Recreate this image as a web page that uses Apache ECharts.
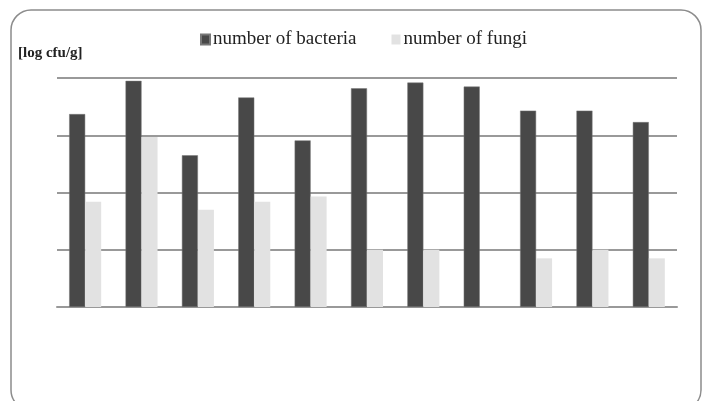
<!DOCTYPE html>
<html>
<head>
<meta charset="utf-8">
<script src="https://cdn.jsdelivr.net/npm/echarts@6/dist/echarts.min.js"></script>
<style>
  html, body { margin: 0; padding: 0; background: #fff; }
  #main { width: 703px; height: 401px; }
</style>
</head>
<body>
<div id="main"></div>
<script>
// samples (no labels shown in the original)
var categories = ['1', '2', '3', '4', '5', '6', '7', '8', '9', '10', '11'];
var bacteria = [3.37, 3.95, 2.65, 3.66, 2.91, 3.82, 3.92, 3.85, 3.43, 3.43, 3.23];
var fungi = [1.84, 2.97, 1.70, 1.84, 1.93, 1.0, 1.0, 0, 0.85, 1.0, 0.85];
var yTicks = [0, 1, 2, 3, 4];

var chart = echarts.init(document.getElementById('main'));

var option = {
    animation: false,
    backgroundColor: '#fff',
    graphic: [{
        type: 'rect',
        shape: { x: 11, y: 10, width: 690, height: 400, r: 20 },
        style: { fill: 'none', stroke: '#8c8c8c', lineWidth: 1.5 }
    }, {
        type: 'text',
        left: 18,
        top: 46,
        style: {
            text: '[log cfu/g]',
            font: 'bold 15px "Liberation Serif"',
            fill: '#222'
        }
    }],
    legend: {
        left: 195,
        top: 25,
        itemWidth: 9,
        itemHeight: 10,
        itemGap: 35,
        icon: 'rect',
        textStyle: {
            fontFamily: 'Liberation Serif',
            fontSize: 19,
            color: '#222',
            padding: [0, 0, 0, -2]
        },
        data: ['number of bacteria', 'number of fungi']
    },
    grid: { left: 57, right: 26, top: 78, bottom: 94 },
    xAxis: {
        type: 'category',
        data: categories,
        axisLine: { lineStyle: { color: '#999', width: 2 } },
        axisTick: { show: false },
        axisLabel: { show: false }
    },
    yAxis: {
        type: 'value',
        min: yTicks[0],
        max: yTicks[yTicks.length - 1],
        interval: 1,
        axisLine: { show: false },
        axisTick: { show: false },
        axisLabel: { show: false },
        splitLine: { lineStyle: { color: '#999', width: 2 } }
    },
    series: [{
        type: 'bar',
        name: 'number of bacteria',
        data: bacteria,
        barWidth: 16,
        barGap: '0%',
        itemStyle: { color: '#484848', borderColor: '#777', borderWidth: 0.5 }
    }, {
        type: 'bar',
        name: 'number of fungi',
        data: fungi,
        barWidth: 16,
        itemStyle: { color: '#e2e2e2' }
    }]
};

chart.setOption(option);
</script>
</body>
</html>
